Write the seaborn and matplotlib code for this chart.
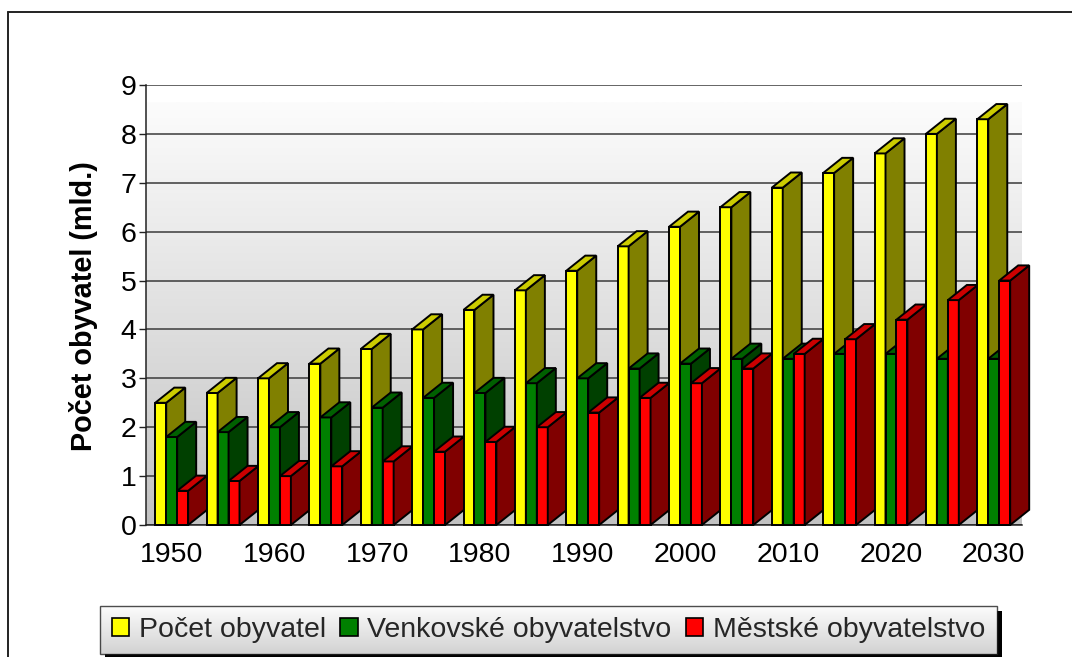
import numpy as np
import pandas as pd
import matplotlib
matplotlib.use('Agg')
import matplotlib.pyplot as plt
import seaborn as sns
from matplotlib.patches import Polygon, Rectangle
from matplotlib.lines import Line2D
from matplotlib.colors import LinearSegmentedColormap

# ---- data ----
roky = [1950, 1955, 1960, 1965, 1970, 1975, 1980, 1985, 1990, 1995,
        2000, 2005, 2010, 2015, 2020, 2025, 2030]
pocet_obyvatel = [2.5, 2.7, 3.0, 3.3, 3.6, 4.0, 4.4, 4.8, 5.2, 5.7,
                  6.1, 6.5, 6.9, 7.2, 7.6, 8.0, 8.3]
venkovske = [1.8, 1.9, 2.0, 2.2, 2.4, 2.6, 2.7, 2.9, 3.0, 3.2,
             3.3, 3.4, 3.4, 3.5, 3.5, 3.4, 3.4]
mestske = [0.7, 0.9, 1.0, 1.2, 1.3, 1.5, 1.7, 2.0, 2.3, 2.6,
           2.9, 3.2, 3.5, 3.8, 4.2, 4.6, 5.0]
serie = ['Počet obyvatel', 'Venkovské obyvatelstvo', 'Městské obyvatelstvo']
y_ticks = [0, 1, 2, 3, 4, 5, 6, 7, 8, 9]
x_tick_labels = ['1950', '1960', '1970', '1980', '1990', '2000', '2010', '2020', '2030']

front_colors = ['#FFFF00', '#008000', '#FF0000']
top_colors = ['#CCCC00', '#006000', '#CC0000']
side_colors = ['#808000', '#004000', '#800000']

rows = []
for name, vals in zip(serie, [pocet_obyvatel, venkovske, mestske]):
    for r, v in zip(roky, vals):
        rows.append({'rok': str(r), 'hodnota': v, 'serie': name})
df = pd.DataFrame(rows)

sns.set_theme(style='white')
plt.rcParams['font.family'] = ['Liberation Sans', 'DejaVu Sans']

W, H = 1072, 657
fig = plt.figure(figsize=(W / 100, H / 100), dpi=100)
fig.patch.set_facecolor('white')
ax = fig.add_axes([146 / W, (H - 525) / H, (1022 - 146) / W, 440 / H])

XMIN, XMAX = -0.5, 16.55
# back wall gradient
wall_cmap = LinearSegmentedColormap.from_list('wall', ['#c2c2c2', '#e0e0e0', '#fcfcfc'])
grad = np.linspace(0, 1, 256).reshape(-1, 1)
ax.imshow(grad, extent=(XMIN, XMAX, 0, 8.65), origin='lower', aspect='auto',
          cmap=wall_cmap, zorder=0)

sns.barplot(data=df, x='rok', y='hodnota', hue='serie', hue_order=serie,
            order=[str(r) for r in roky], palette=front_colors, saturation=1,
            width=0.64, edgecolor='black', linewidth=1.4, errorbar=None,
            legend=False, ax=ax)

DX, DY = 0.37, 0.31
for j, cont in enumerate(ax.containers):
    for i, bar in enumerate(cont):
        x0 = bar.get_x()
        w = bar.get_width()
        h = bar.get_height()
        z = 3 + i * 0.1 + j * 0.02
        bar.set_zorder(z)
        bar.set_clip_on(False)
        top = Polygon([(x0, h), (x0 + w, h), (x0 + w + DX, h + DY), (x0 + DX, h + DY)],
                      closed=True, fc=top_colors[j], ec='black', lw=1.4,
                      zorder=z + 0.001, clip_on=False)
        side = Polygon([(x0 + w, 0), (x0 + w + DX, DY), (x0 + w + DX, h + DY), (x0 + w, h)],
                       closed=True, fc=side_colors[j], ec='black', lw=1.4,
                       zorder=z + 0.001, clip_on=False)
        ax.add_patch(side)
        ax.add_patch(top)

ax.set_xlim(XMIN, XMAX)
ax.set_ylim(0, 9)
ax.set_yticks(y_ticks)
ax.set_yticklabels([str(t) for t in y_ticks])
ax.set_xticks(list(range(0, len(roky), 2)))
ax.set_xticklabels(x_tick_labels)
ax.set_xlabel('')
ax.set_ylabel('')
ax.set_axisbelow(True)
ax.yaxis.grid(True, color='#3a3a3a', linewidth=1.1)
ax.xaxis.grid(False)
for s in ['top', 'right']:
    ax.spines[s].set_visible(False)
ax.spines['left'].set_color('#222222')
ax.spines['left'].set_linewidth(1.1)
ax.spines['bottom'].set_color('#222222')
ax.spines['bottom'].set_linewidth(1.1)
ax.tick_params(axis='y', left=True, length=5, width=1, color='#222222', pad=2,
               labelsize=20.5, labelcolor='black')
ax.tick_params(axis='x', bottom=False, length=0, pad=12, labelsize=20.5,
               labelcolor='black')

fig.text(84 / W, (H - 306) / H, 'Počet obyvatel (mld.)', rotation=90,
         ha='center', va='center', fontsize=20.8, fontweight='bold', color='black')

# outer frame (left and top edges visible)
fig.add_artist(Line2D([8 / W, 8 / W], [0, (H - 12) / H], transform=fig.transFigure,
                      color='#222222', lw=1.4))
fig.add_artist(Line2D([8 / W, 1.0], [(H - 12) / H, (H - 12) / H], transform=fig.transFigure,
                      color='#222222', lw=1.4))

handles = [Rectangle((0, 0), 1, 1, fc=c, ec='black', lw=1.2) for c in front_colors]
leg = fig.legend(handles, serie, loc='center', bbox_to_anchor=(548.5 / W, (H - 630) / H),
                 ncol=3, fontsize=20.5, frameon=True, fancybox=False, edgecolor='#222222',
                 facecolor='none', handlelength=0.62, handleheight=0.62,
                 handletextpad=0.33, columnspacing=0.5, borderpad=0.4,
                 borderaxespad=0)
leg.get_frame().set_linewidth(1.0)
leg.set_zorder(5)

fig.canvas.draw()
bb = leg.get_window_extent()
fig.add_artist(Rectangle(((bb.x0 + 5) / W, (bb.y0 - 5) / H), bb.width / W, bb.height / H,
                         transform=fig.transFigure, fc='black', ec='none', zorder=3))
gax = fig.add_axes([bb.x0 / W, bb.y0 / H, bb.width / W, bb.height / H], zorder=4)
leg_cmap = LinearSegmentedColormap.from_list('leg', ['#d2d2d2', '#fdfdfd'])
gax.imshow(grad, extent=(0, 1, 0, 1), origin='lower', aspect='auto', cmap=leg_cmap)
gax.axis('off')

fig.savefig('out.png', dpi=100)
